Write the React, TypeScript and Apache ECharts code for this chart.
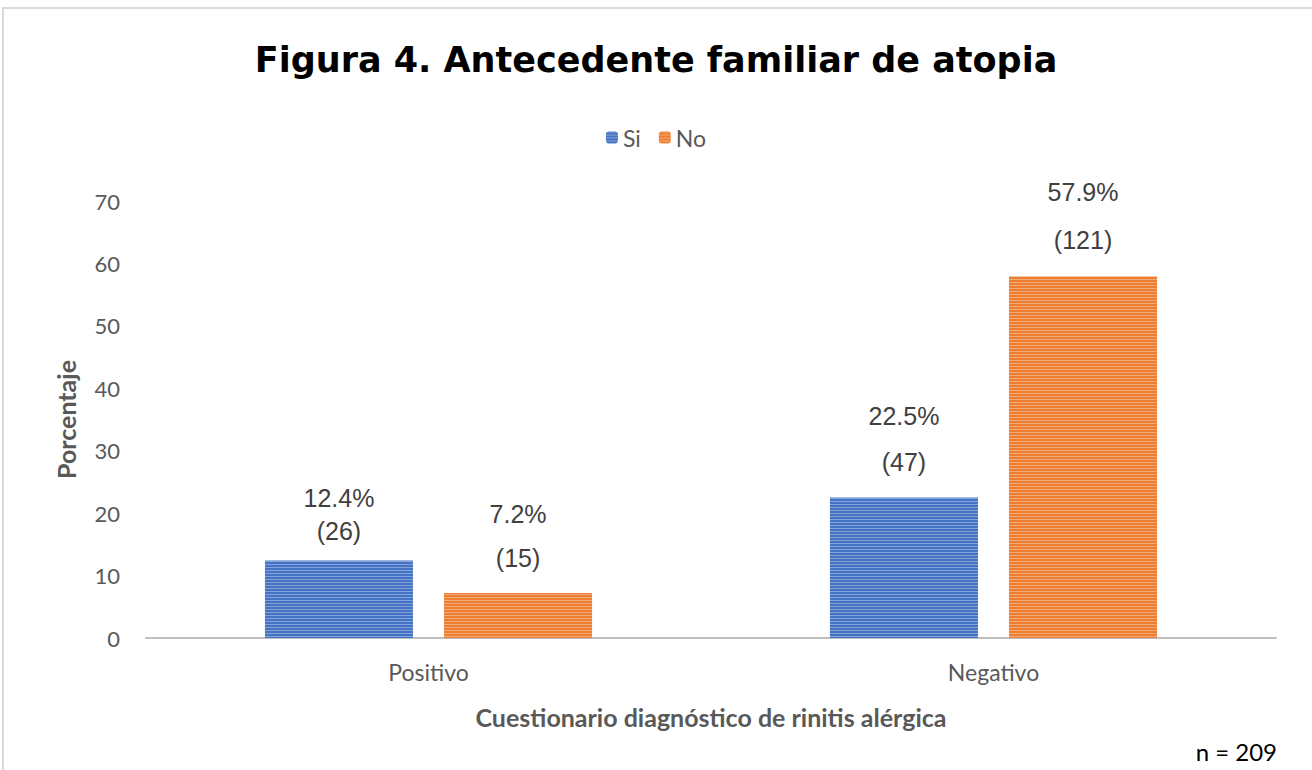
import React, { useEffect, useRef } from "react";
import * as echarts from "echarts";

const categories = ["Positivo", "Negativo"];
const seriesNames = ["Si", "No"];
const siValues = [12.4, 22.5];
const noValues = [7.2, 57.9];
const siCounts = [26, 47];
const noCounts = [15, 121];
const yTicks = [0, 10, 20, 30, 40, 50, 60, 70];

const labelFont = "'Liberation Sans', Arial, sans-serif";
const bodyFont = "Lato, 'Open Sans', sans-serif";

function makeData(values: number[], counts: number[], lineHeights: number[]) {
  return values.map((v, i) => ({
    value: v,
    label: {
      formatter: `{a|${v.toFixed(1)}%}\n{a|(${counts[i]})}`,
      rich: { a: { fontSize: 25, lineHeight: lineHeights[i], color: "#404040", fontFamily: labelFont } },
    },
  }));
}

export default function App() {
  const ref = useRef<HTMLDivElement>(null);
  useEffect(() => {
    const chart = echarts.init(ref.current!, null, { renderer: "svg" });
    const decal = (c: string) => ({
      symbol: "rect",
      color: c,
      dashArrayX: [1, 0],
      dashArrayY: [1, 2],
      rotation: 0,
      symbolSize: 1,
    });
    chart.setOption({
      animation: false,
      backgroundColor: "#fff",
      title: {
        text: "Figura 4. Antecedente familiar de atopia",
        left: "center",
        top: 37,
        textStyle: { fontSize: 35, fontWeight: "bold", color: "#000", fontFamily: "'DejaVu Sans', sans-serif" },
      },
      legend: {
        data: seriesNames,
        top: 121,
        left: "center",
        itemWidth: 12,
        itemHeight: 12,
        itemGap: 18,
        textStyle: { fontSize: 23, color: "#595959", fontFamily: bodyFont },
      },
      grid: { left: 146, right: 36, top: 201, bottom: 132, containLabel: false },
      xAxis: {
        type: "category",
        data: categories,
        axisLine: { lineStyle: { color: "#BFBFBF", width: 2 } },
        axisTick: { show: false },
        axisLabel: { fontSize: 23, color: "#595959", fontFamily: bodyFont, margin: 22 },
        name: "Cuestionario diagnóstico de rinitis alérgica",
        nameLocation: "middle",
        nameGap: 66,
        nameTextStyle: { fontSize: 25, fontWeight: "bold", color: "#595959", fontFamily: bodyFont },
      },
      yAxis: {
        type: "value",
        min: yTicks[0],
        max: yTicks[yTicks.length - 1],
        interval: 10,
        splitLine: { show: false },
        axisLine: { show: false },
        axisTick: { show: false },
        axisLabel: { fontSize: 22, color: "#595959", fontFamily: bodyFont, margin: 26 },
        name: "Porcentaje",
        nameLocation: "middle",
        nameGap: 68,
        nameRotate: 90,
        nameTextStyle: { fontSize: 25, fontWeight: "bold", color: "#595959", fontFamily: bodyFont },
      },
      series: [
        {
          name: seriesNames[0],
          type: "bar",
          barWidth: 148,
          barGap: "21%",
          itemStyle: { color: "#4472C4", decal: decal("rgba(255,255,255,0.35)") },
          label: { show: true, position: "top", distance: 13 },
          data: makeData(siValues, siCounts, [33, 46]),
        },
        {
          name: seriesNames[1],
          type: "bar",
          barWidth: 148,
          itemStyle: { color: "#ED7D31", decal: decal("rgba(255,255,255,0.35)") },
          label: { show: true, position: "top", distance: 13 },
          data: makeData(noValues, noCounts, [44, 48]),
        },
      ],
      graphic: [
        {
          type: "rect",
          shape: { x: 3, y: 8, width: 1320, height: 800 },
          style: { fill: "none", stroke: "#D9D9D9", lineWidth: 2 },
          silent: true,
        },
        {
          type: "text",
          right: 35,
          top: 739,
          style: { text: "n = 209", fontSize: 24, fill: "#000", fontFamily: bodyFont },
        },
      ],
    });
    return () => chart.dispose();
  }, []);
  return (
    <div
      ref={ref}
      style={{ position: "fixed", left: 0, top: 0, width: 1312, height: 770 }}
    />
  );
}
